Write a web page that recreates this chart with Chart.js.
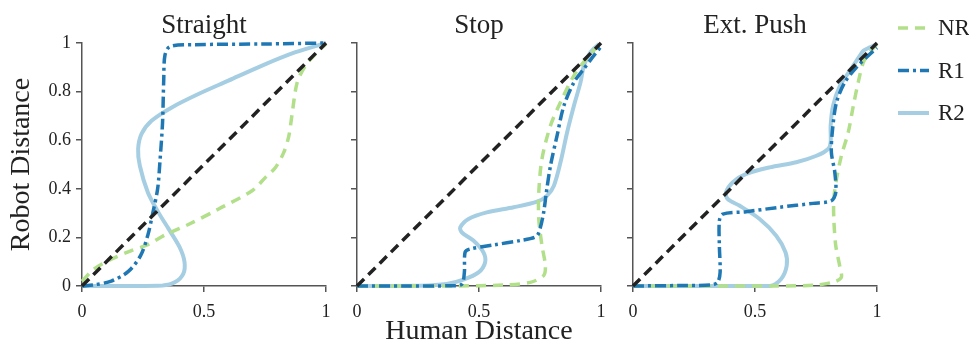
<!doctype html>
<html lang="en">
<head>
  <meta charset="utf-8">
  <title>Robot vs Human Distance</title>
  <script src="https://cdn.jsdelivr.net/npm/chart.js"></script>
  <style>
    body { margin: 0; background: #fff; }
    #wrap { position: relative; width: 969px; height: 348px; }
    #wrap canvas { position: absolute; left: 0; top: 0; }
  </style>
</head>
<body>
  <div id="wrap">
    <canvas id="straight" width="969" height="348"></canvas>
    <canvas id="stop" width="969" height="348"></canvas>
    <canvas id="push" width="969" height="348"></canvas>
  </div>
  <script>
    // panel titles, series names and tick labels
    const panelTitles = ['Straight', 'Stop', 'Ext. Push'];
    const seriesNames = ['NR', 'R1', 'R2'];
    const xTickLabels = ['0', '0.5', '1'];
    const yTickLabels = ['0', '0.2', '0.4', '0.6', '0.8', '1'];

    // [human distance, robot distance] pairs
    const parity = [[0, 0], [1, 1]];

    const straightNR = [[0, 0.02], [0.05, 0.07], [0.12, 0.11], [0.2, 0.145], [0.27, 0.17], [0.34, 0.21],
      [0.44, 0.255], [0.56, 0.317], [0.697, 0.392], [0.752, 0.447], [0.793, 0.488], [0.827, 0.55],
      [0.848, 0.619], [0.862, 0.715], [0.882, 0.838], [0.916, 0.907], [0.957, 0.955], [1, 0.996]];
    const straightR1 = [[0, 0], [0.05, 0.005], [0.12, 0.02], [0.19, 0.06], [0.24, 0.125], [0.27, 0.21],
      [0.29, 0.3], [0.31, 0.4], [0.32, 0.52], [0.33, 0.67], [0.335, 0.85], [0.34, 0.95], [0.36, 0.985],
      [0.46, 0.993], [0.75, 0.996], [1, 1]];
    const straightR2 = [[0, 0], [0.2, 0], [0.33, 0.002], [0.38, 0.015], [0.415, 0.05], [0.42, 0.1],
      [0.4, 0.16], [0.355, 0.235], [0.313, 0.303], [0.27, 0.385], [0.237, 0.495], [0.23, 0.564],
      [0.244, 0.626], [0.285, 0.68], [0.368, 0.735], [0.477, 0.79], [0.6, 0.845], [0.738, 0.907],
      [0.875, 0.962], [1, 1]];

    const stopNR = [[0, 0], [0.2, 0], [0.4, 0], [0.6, 0.004], [0.71, 0.015], [0.765, 0.043], [0.772, 0.084],
      [0.758, 0.166], [0.745, 0.276], [0.745, 0.385], [0.758, 0.523], [0.793, 0.66], [0.834, 0.756],
      [0.889, 0.866], [0.944, 0.94], [1, 1]];
    const stopR1 = [[0, 0], [0.2, 0], [0.395, 0.001], [0.43, 0.008], [0.44, 0.056], [0.443, 0.139],
      [0.463, 0.152], [0.56, 0.169], [0.669, 0.187], [0.735, 0.204], [0.75, 0.235], [0.765, 0.303],
      [0.776, 0.385], [0.793, 0.495], [0.82, 0.619], [0.848, 0.742], [0.889, 0.838], [0.93, 0.894],
      [0.964, 0.94], [1, 0.985]];
    const stopR2 = [[0, 0], [0.258, 0.001], [0.367, 0.008], [0.436, 0.026], [0.498, 0.056], [0.525, 0.097],
      [0.518, 0.139], [0.477, 0.187], [0.43, 0.22], [0.423, 0.241], [0.457, 0.276], [0.532, 0.303],
      [0.642, 0.324], [0.738, 0.347], [0.779, 0.372], [0.807, 0.413], [0.834, 0.509], [0.861, 0.632],
      [0.889, 0.742], [0.916, 0.838], [0.93, 0.907], [0.957, 0.962], [0.992, 0.996]];

    const pushNR = [[0, 0], [0.3, 0], [0.573, 0], [0.75, 0.004], [0.827, 0.018], [0.854, 0.036],
      [0.847, 0.084], [0.831, 0.166], [0.823, 0.276], [0.823, 0.358], [0.834, 0.44], [0.854, 0.536],
      [0.882, 0.632], [0.903, 0.742], [0.923, 0.838], [0.944, 0.92], [0.971, 0.962], [1, 0.996]];
    const pushR1 = [[0, 0], [0.2, 0.002], [0.32, 0.004], [0.347, 0.015], [0.357, 0.056], [0.354, 0.166],
      [0.354, 0.269], [0.368, 0.296], [0.464, 0.306], [0.6, 0.324], [0.738, 0.34], [0.813, 0.351],
      [0.831, 0.385], [0.827, 0.468], [0.813, 0.55], [0.818, 0.646], [0.834, 0.756], [0.868, 0.838],
      [0.916, 0.9], [0.964, 0.948], [1, 0.98]];
    const pushR2 = [[0, 0], [0.3, 0], [0.56, 0], [0.607, 0.029], [0.63, 0.084], [0.625, 0.139],
      [0.587, 0.207], [0.519, 0.276], [0.436, 0.331], [0.388, 0.358], [0.381, 0.385], [0.409, 0.427],
      [0.464, 0.461], [0.56, 0.488], [0.669, 0.509], [0.752, 0.536], [0.8, 0.564], [0.81, 0.591],
      [0.81, 0.66], [0.82, 0.742], [0.848, 0.824], [0.889, 0.886], [0.93, 0.948], [0.944, 0.968],
      [0.971, 0.982], [1, 0.996]];

    // look
    const serif = 'Liberation Serif';
    const ink = '#222';
    const axisGrey = '#555';
    const seriesColors = ['#b2df8a', '#1f78b4', '#a6cee3'];
    const seriesDash = [[10, 7], [11, 4, 3, 4], []];
    const seriesWidth = [3.5, 3.5, 4];
    const seriesOrder = [2, 1, 3];
    const plotLeft = [82, 357, 633];
    const plotSize = 244;

    const toXY = pts => pts.map(p => ({ x: p[0], y: p[1] }));

    // legend to the right of the last panel
    const sideLegend = {
      id: 'sideLegend',
      afterDraw(chart) {
        const ctx = chart.ctx;
        const x0 = chart.chartArea.right + 21;
        ctx.save();
        seriesNames.forEach((name, i) => {
          const y = 28 + i * 42.5;
          ctx.strokeStyle = seriesColors[i];
          ctx.lineWidth = seriesWidth[i];
          ctx.setLineDash(seriesDash[i]);
          ctx.beginPath();
          ctx.moveTo(x0, y);
          ctx.lineTo(x0 + 31, y);
          ctx.stroke();
          ctx.setLineDash([]);
          ctx.fillStyle = ink;
          ctx.font = '23px "' + serif + '"';
          ctx.textBaseline = 'middle';
          ctx.textAlign = 'left';
          ctx.fillText(name, x0 + 40, y + 1);
        });
        ctx.restore();
      }
    };

    function panel(id, idx, lines) {
      const left = plotLeft[idx];
      const yW = idx === 0 ? 82 : 14;
      const datasets = [{
        label: 'parity',
        data: toXY(parity),
        borderColor: ink,
        borderDash: [10, 6],
        borderWidth: 3.5,
        order: 0
      }].concat(lines.map((pts, i) => ({
        label: seriesNames[i],
        data: toXY(pts),
        borderColor: seriesColors[i],
        borderDash: seriesDash[i],
        borderWidth: seriesWidth[i],
        tension: 0.3,
        order: seriesOrder[i]
      })));
      datasets.forEach(d => {
        d.showLine = true;
        d.pointRadius = 0;
        d.fill = false;
        d.clip = false;
      });

      return new Chart(document.getElementById(id), {
        type: 'scatter',
        data: { datasets: datasets },
        plugins: idx === 2 ? [sideLegend] : [],
        options: {
          responsive: false,
          animation: false,
          events: [],
          layout: { padding: { left: left - yW, right: 969 - left - plotSize, top: 0, bottom: 0 } },
          plugins: {
            legend: { display: false },
            tooltip: { enabled: false },
            title: {
              display: true,
              text: panelTitles[idx],
              fullSize: false,
              color: ink,
              font: { family: serif, size: 27, weight: 'normal', lineHeight: 1.2 },
              padding: { top: 10, bottom: 0.6 }
            }
          },
          scales: {
            x: {
              type: 'linear',
              min: 0,
              max: 1,
              ticks: {
                stepSize: 0.5, color: ink, font: { family: serif, size: 18 }, padding: 9, maxRotation: 0,
                callback: v => xTickLabels[Math.round(v / 0.5)]
              },
              grid: { drawOnChartArea: false, tickLength: 6, color: axisGrey, lineWidth: 1.5 },
              border: { color: axisGrey, width: 1.5 },
              title: {
                display: idx === 1,
                text: 'Human Distance',
                color: ink,
                font: { family: serif, size: 28 },
                padding: { top: 0, bottom: 0 }
              },
              afterFit: s => { s.height = 62; }
            },
            y: {
              type: 'linear',
              min: 0,
              max: 1,
              ticks: {
                stepSize: 0.2, display: idx === 0, color: ink, font: { family: serif, size: 18 }, padding: 5,
                callback: v => yTickLabels[Math.round(v / 0.2)]
              },
              grid: { drawOnChartArea: false, tickLength: 6, color: axisGrey, lineWidth: 1.5 },
              border: { color: axisGrey, width: 1.5 },
              title: {
                display: idx === 0,
                text: 'Robot Distance',
                color: ink,
                font: { family: serif, size: 28 },
                padding: { top: 5, bottom: 0 }
              },
              afterFit: s => { s.width = yW; }
            }
          }
        }
      });
    }

    panel('straight', 0, [straightNR, straightR1, straightR2]);
    panel('stop', 1, [stopNR, stopR1, stopR2]);
    panel('push', 2, [pushNR, pushR1, pushR2]);
  </script>
</body>
</html>
